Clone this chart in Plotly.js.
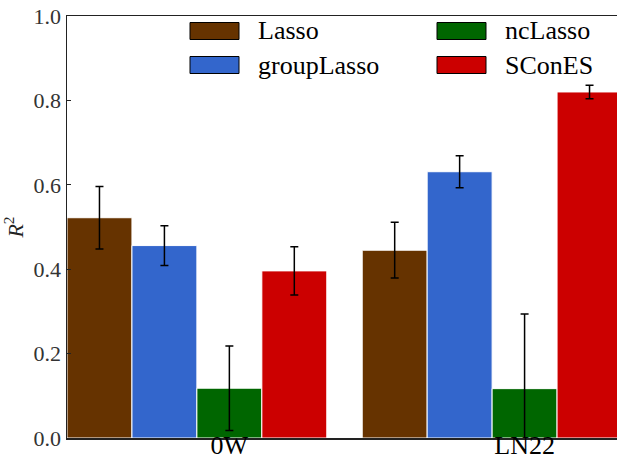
<!DOCTYPE html>
<html>
<head>
<meta charset="utf-8">
<script src="https://cdn.plot.ly/plotly-3.0.1.min.js"></script>
<style>
html, body { margin: 0; padding: 0; overflow: hidden; background: #fff; }
#chart { width: 625px; height: 462px; }
</style>
</head>
<body>
<div id="chart"></div>
<script>
// ---- data ----
const groups = ["0W", "LN22"];
const methods = ["Lasso", "groupLasso", "ncLasso", "SConES"];
const colors = ["#663300", "#3366cc", "#006600", "#cc0000"];
const lassoR2 = [0.522, 0.445];
const groupLassoR2 = [0.456, 0.631];
const ncLassoR2 = [0.118, 0.117];
const sconesR2 = [0.396, 0.820];
const lassoErr = [0.074, 0.066];
const groupLassoErr = [0.047, 0.038];
const ncLassoErr = [0.100, 0.177];
const sconesErr = [0.057, 0.016];
const yTicks = [0.0, 0.2, 0.4, 0.6, 0.8, 1.0];

const values = [lassoR2, groupLassoR2, ncLassoR2, sconesR2];
const errors = [lassoErr, groupLassoErr, ncLassoErr, sconesErr];

const SERIF = "Liberation Serif";
const barW = 0.22;
const idx = groups.map((g, i) => i);

const traces = methods.map((m, k) => ({
  type: "bar",
  name: m,
  x: idx.map(g => g + k * barW + barW / 2),
  y: values[k],
  width: barW,
  marker: { color: colors[k], line: { color: "#ffffff", width: 1 } },
  error_y: { type: "data", array: errors[k], visible: true, color: "#000000", thickness: 1.5, width: 4 },
  showlegend: false
}));

// custom legend (2 columns x 2 rows)
const legendPos = [
  { col: 0, row: 0 }, // Lasso
  { col: 0, row: 1 }, // groupLasso
  { col: 1, row: 0 }, // ncLasso
  { col: 1, row: 1 }  // SConES
];
const W = 625, H = 462;
const colX = [190, 437];
const rowY = [31, 65];
const shapes = [];
const annotations = [];
methods.forEach((m, k) => {
  const p = legendPos[k];
  const x0 = colX[p.col], y0 = rowY[p.row];
  shapes.push({
    type: "rect", xref: "paper", yref: "paper",
    x0: (x0 - 67) / 555, x1: (x0 + 49 - 67) / 555,
    y0: (438 - (y0 + 8.5)) / 422, y1: (438 - (y0 - 8.5)) / 422,
    fillcolor: colors[k], line: { color: "#000000", width: 1 }
  });
  annotations.push({
    xref: "paper", yref: "paper",
    x: (x0 + 66 - 67) / 555, y: (438 - y0) / 422,
    xanchor: "left", yanchor: "middle", showarrow: false,
    text: m, font: { family: SERIF, size: 26, color: "#000" }
  });
});

const layout = {
  width: W, height: H,
  margin: { l: 67, r: 3, t: 16, b: 24 },
  paper_bgcolor: "#ffffff", plot_bgcolor: "#ffffff",
  font: { family: SERIF, color: "#222" },
  barmode: "overlay",
  xaxis: {
    range: [0, 1.88], showgrid: false, zeroline: false,
    tickvals: idx.map(g => g + 2.5 * barW), ticktext: groups,
    ticks: "", showline: true, linecolor: "#222", linewidth: 1.5, mirror: true,
    tickfont: { family: SERIF, size: 26, color: "#000" },
    ticklabelstandoff: -17,
    fixedrange: true, automargin: false
  },
  yaxis: {
    range: [0, 1], showgrid: false, zeroline: false,
    tickvals: yTicks, tickformat: ".1f",
    ticks: "inside", ticklen: 4, tickcolor: "#222", tickwidth: 1,
    showline: true, linecolor: "#222", linewidth: 1.5, mirror: true,
    tickfont: { family: SERIF, size: 22, color: "#333" },
    title: { text: "<i>R</i><sup>2</sup>", font: { family: SERIF, size: 22, color: "#222" }, standoff: 10 },
    automargin: false, fixedrange: true
  },
  shapes: shapes,
  annotations: annotations,
  showlegend: false
};

Plotly.newPlot("chart", traces, layout, { displayModeBar: false, staticPlot: true });
</script>
</body>
</html>
